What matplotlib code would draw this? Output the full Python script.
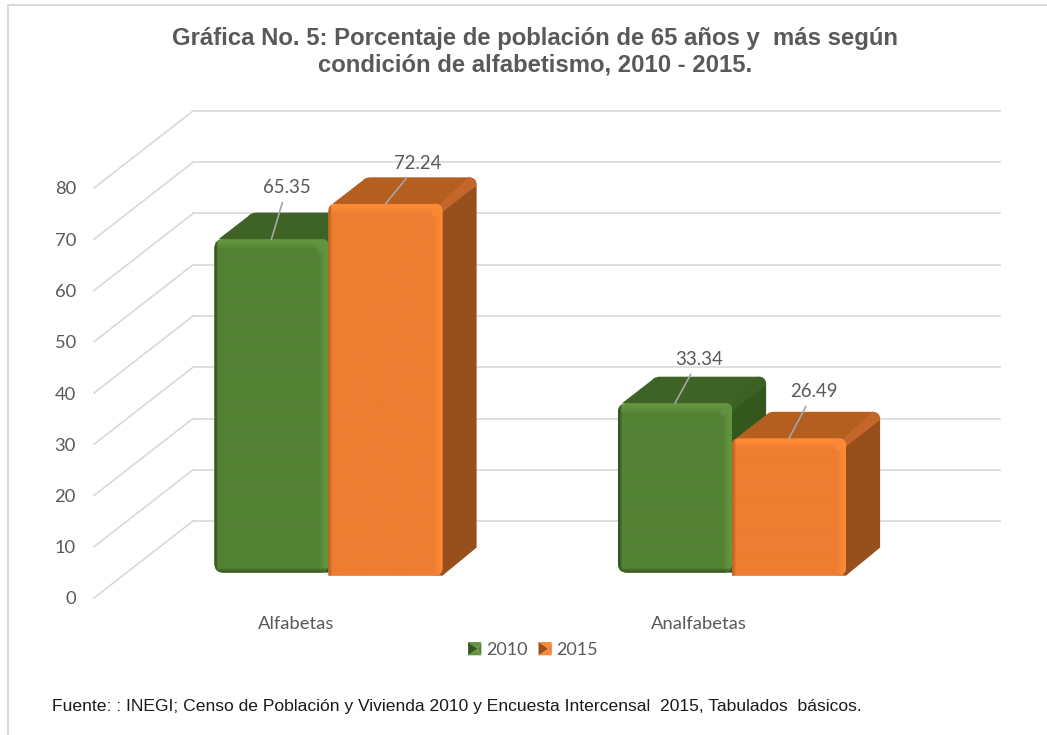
"""
Gráfica No. 5: población de 65 años y más según condición de alfabetismo.
"""
import numpy as np
import matplotlib
matplotlib.use("Agg")
import matplotlib.pyplot as plt
from matplotlib.colors import to_rgb
from matplotlib.legend_handler import HandlerBase
from matplotlib.patches import Patch, PathPatch, Polygon
from matplotlib.path import Path

categories = ["Alfabetas", "Analfabetas"]
years = ["2010", "2015"]
values_2010 = [65.35, 33.34]
values_2015 = [72.24, 26.49]
y_ticks = [0, 10, 20, 30, 40, 50, 60, 70, 80]

title = ("Gráfica No. 5: Porcentaje de población de 65 años y  más según\n"
         "condición de alfabetismo, 2010 - 2015.")
source = ("Fuente: : INEGI; Censo de Población y Vivienda 2010 y Encuesta "
          "Intercensal  2015, Tabulados  básicos.")

# tamaño de la figura y del plano frontal, en pixeles
W, H = 1047, 735
LEFT, RIGHT, BOTTOM, TOP = 94, 901, 598, 188
GREY = "#595959"
GRID = "#d9d9d9"

# front, light, dark, top, side, banda superior
GREEN = ("#548235", "#639440", "#37561f", "#3f6326", "#33581e", "#3b6224")
ORANGE = ("#ed7d31", "#fb8a35", "#c9651f", "#b45f20", "#97501b", "#c4672a")

PX_X = (RIGHT - LEFT) / 2          # pixeles por categoria
PX_Y = (BOTTOM - TOP) / 80         # pixeles por unidad
DEPTH_X = 99 / PX_X                # desplazamiento de la pared del fondo
DEPTH_Y = 77 / PX_Y
BAR_W = 114 / PX_X
BAR_D0, BAR_D1 = 0.31, 0.655


def project(x, v, d):
    """Proyeccion oblicua: d=0 plano frontal, d=1 pared del fondo."""
    return x + d * DEPTH_X, v + d * DEPTH_Y


def rounded_path(x0, x1, y0, y1, radii):
    """Rectangulo con un radio (en pixeles) por esquina: tl, tr, br, bl."""
    tl, tr, br, bl = radii
    rx = lambda r: r / PX_X
    ry = lambda r: r / PX_Y
    verts = [(x0, y0 + ry(bl)), (x0, y1 - ry(tl)), (x0, y1), (x0 + rx(tl), y1),
             (x1 - rx(tr), y1), (x1, y1), (x1, y1 - ry(tr)),
             (x1, y0 + ry(br)), (x1, y0), (x1 - rx(br), y0),
             (x0 + rx(bl), y0), (x0, y0), (x0, y0 + ry(bl)), (x0, y0 + ry(bl))]
    codes = [Path.MOVETO, Path.LINETO, Path.CURVE3, Path.CURVE3,
             Path.LINETO, Path.CURVE3, Path.CURVE3,
             Path.LINETO, Path.CURVE3, Path.CURVE3,
             Path.LINETO, Path.CURVE3, Path.CURVE3, Path.CLOSEPOLY]
    return Path(verts, codes)


def bevel_image(cols, w_px, h_px, dark_bottom):
    """Imagen del frente de la barra con bordes biselados."""
    base, light, dark = [np.array(to_rgb(c)) for c in cols[:3]]
    w_px, h_px = int(w_px), int(h_px)
    xx, yy = np.meshgrid(np.arange(w_px), np.arange(h_px))
    img = np.ones((h_px, w_px, 3)) * base

    def mix(weight, colour):
        m = np.clip(weight, 0, 1)[..., None]
        return img * (1 - m) + colour * m

    img = mix((10 - yy) / 7, light)
    img = mix((10 - (w_px - xx)) / 7, light)
    img = mix((4 - xx) / 3, dark)
    if dark_bottom:
        img = mix((6 - (h_px - yy)) / 5, dark)
    corner = np.hypot(xx - (w_px - 9), yy - 9)
    img = mix((5 - corner) / 5 * 0.5, light * 1.08)
    return np.clip(img, 0, 1)


def draw_bar(ax, xc, value, cols, radii, drop_px, z, dark_bottom):
    x0, x1 = xc - BAR_W / 2, xc + BAR_W / 2
    lx, ly = project(x0, 0, BAR_D0)
    rx, ty = project(x1, value, BAR_D0)
    bx, by = project(x1, value, BAR_D1)
    _, bot_back = project(x1, 0, BAR_D1)
    ly = ly - drop_px / PX_Y
    rad_x, rad_y = 8 / PX_X, 8 / PX_Y
    shift_x = bx - rx

    # cara lateral, metida bajo el frente para no dejar huecos en las esquinas
    side = Path([(rx - rad_x, ty - rad_y), (bx, by - rad_y), (bx, bot_back),
                 (rx, ly), (rx - rad_x, ly), (rx - rad_x, ty - rad_y)],
                [Path.MOVETO, Path.LINETO, Path.LINETO, Path.LINETO, Path.LINETO,
                 Path.CLOSEPOLY])
    ax.add_patch(PathPatch(side, fc=cols[4], ec="none", zorder=z, clip_on=False))
    # cara superior, con la esquina del fondo redondeada
    top = Path([(lx + rad_x * 0.5, ty), (lx + shift_x, by - rad_y * 0.4),
                (lx + shift_x + rad_x * 0.3, by), (lx + shift_x + rad_x, by),
                (bx - rad_x, by), (bx, by), (bx, by - rad_y),
                (rx, ty - rad_y), (lx + rad_x * 0.5, ty)],
               [Path.MOVETO, Path.LINETO, Path.CURVE3, Path.CURVE3,
                Path.LINETO, Path.CURVE3, Path.CURVE3, Path.LINETO, Path.CLOSEPOLY])
    ax.add_patch(PathPatch(top, fc=cols[3], ec="none", zorder=z + 0.1, clip_on=False))
    # banda clara sobre la arista derecha de la cara superior
    band = Path([(rx - rad_x * 0.3, ty), (bx - rad_x, by), (bx, by), (bx, by - rad_y),
                 (rx, ty - rad_y), (rx - rad_x * 0.3, ty)],
                [Path.MOVETO, Path.LINETO, Path.CURVE3, Path.CURVE3,
                 Path.LINETO, Path.CLOSEPOLY])
    ax.add_patch(PathPatch(band, fc=cols[5], ec="none", zorder=z + 0.15, clip_on=False))
    # cara frontal
    clip = PathPatch(rounded_path(lx, rx, ly, ty, radii), fc=cols[0], ec="none",
                     zorder=z + 0.2, clip_on=False)
    ax.add_patch(clip)
    im = ax.imshow(bevel_image(cols, (rx - lx) * PX_X, (ty - ly) * PX_Y, dark_bottom),
                   extent=(lx, rx, ly, ty), origin="upper", aspect="auto",
                   interpolation="bilinear", zorder=z + 0.3, clip_on=True)
    im.set_clip_path(clip)


class BevelKey(HandlerBase):
    """Cuadro de leyenda con forma de piramide."""
    def __init__(self, cols):
        super().__init__()
        self.cols = cols

    def create_artists(self, legend, orig_handle, xdescent, ydescent, width,
                       height, fontsize, trans):
        s = height * 1.05
        x0, y0 = -xdescent + (width - s) / 2, -ydescent + (height - s) / 2
        c = (x0 + s * 0.72, y0 + s / 2)
        a, b, d, e = (x0, y0), (x0 + s, y0), (x0 + s, y0 + s), (x0, y0 + s)
        faces = [([a, b, c], self.cols[1]), ([b, d, c], self.cols[0]),
                 ([d, e, c], self.cols[1]), ([e, a, c], self.cols[4])]
        return [Polygon(p, closed=True, fc=col, ec="none", transform=trans)
                for p, col in faces]


fig = plt.figure(figsize=(W / 100, H / 100), dpi=100, facecolor="white")
ax = fig.add_axes([LEFT / W, 1 - BOTTOM / H, (RIGHT - LEFT) / W, (BOTTOM - TOP) / H])
ax.set_facecolor("none")
for spine in ax.spines.values():
    spine.set_visible(False)

# cuadricula: pared del fondo y pared izquierda
for tick in y_ticks:
    x_back, v_back = project(0, tick, 1)
    x_end, _ = project(2, tick, 1)
    ax.plot([x_back, x_end], [v_back, v_back], color=GRID, lw=1.2, zorder=1, clip_on=False)
    ax.plot([0, x_back], [tick, v_back], color=GRID, lw=1.2, zorder=1, clip_on=False)

# barras
for i, (v10, v15) in enumerate(zip(values_2010, values_2015)):
    xc = i + 0.5 + 0.005
    draw_bar(ax, xc - BAR_W / 2, v10, GREEN, (9, 6, 9, 9), -1.5, 3, True)
    draw_bar(ax, xc + BAR_W / 2, v15, ORANGE, (7, 7, 8, 0), 1.5, 5, False)

# etiquetas de datos con linea guia, desplazamiento en pixeles desde la barra
label_offsets = {(0, 0): (15.5, 52), (0, 1): (32.5, 40), (1, 0): (24, 44), (1, 1): (25, 47)}
for i, series in enumerate([values_2010, values_2015]):
    for j, val in enumerate(series):
        xc = j + 0.5 + 0.005 + (i - 0.5) * BAR_W
        fx, fy = project(xc, val, BAR_D0)
        dx, dy = label_offsets[(j, i)]
        ax.annotate(f"{val:.2f}", xy=(fx, fy), xycoords="data",
                    xytext=(dx * 0.72, dy * 0.72), textcoords="offset points",
                    ha="center", va="center", fontsize=13.4, color=GREY,
                    family="Lato", annotation_clip=False, zorder=9,
                    arrowprops=dict(arrowstyle="-", color="#a6a6a6", lw=1.2,
                                    shrinkA=3, shrinkB=0))

ax.set_xlim(0, 2)
ax.set_ylim(0, 80)
ax.set_yticks(y_ticks)
ax.set_xticks([0.5, 1.5], categories)
ax.tick_params(axis="both", length=0, labelsize=13.2, labelcolor=GREY)
ax.tick_params(axis="y", pad=13)
ax.tick_params(axis="x", pad=13)
for lab in ax.get_xticklabels() + ax.get_yticklabels():
    lab.set_family("Lato")

# leyenda
handles = [Patch(label=years[0]), Patch(label=years[1])]
leg = fig.legend(handles=handles, loc="center", bbox_to_anchor=(533 / W, 1 - 650 / H),
                 ncol=2, frameon=False, labelcolor=GREY,
                 prop={"family": "Lato", "size": 13},
                 handler_map={handles[0]: BevelKey(GREEN), handles[1]: BevelKey(ORANGE)},
                 handlelength=0.75, handletextpad=0.25, columnspacing=0.6)

fig.text(535 / W, 1 - 51.5 / H, title, ha="center", va="center", fontsize=17.2,
         fontweight="bold", color=GREY, family="Liberation Sans", linespacing=1.22)
fig.text(52 / W, 1 - 706 / H, source, ha="left", va="center", fontsize=12.6,
         color="#1a1a1a", family="Liberation Sans")

# marco de la imagen: solo arriba y a la izquierda
fig.add_artist(plt.Line2D([8 / W, 8 / W], [1 - 5 / H, 0], color=GRID, lw=1.44))
fig.add_artist(plt.Line2D([8 / W, 1], [1 - 5 / H, 1 - 5 / H], color=GRID, lw=1.44))

fig.savefig("out.png", dpi=100)
